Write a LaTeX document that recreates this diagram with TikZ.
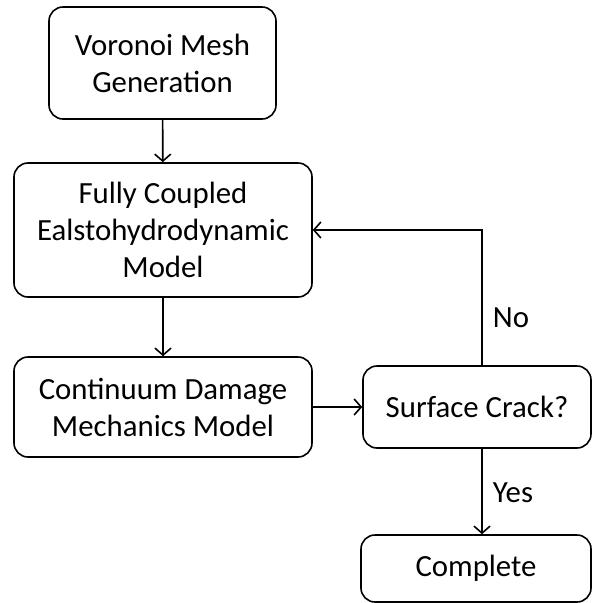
\documentclass[tikz,border=0pt]{standalone}
\usepackage{fontspec}
\setmainfont{Carlito}
\usetikzlibrary{arrows.meta}
\begin{document}
\begin{tikzpicture}[x=1pt,y=-1pt,
  box/.style={draw, line width=1.6pt, rounded corners=14pt, align=center,
    font=\fontsize{30.8}{37}\selectfont, inner sep=0pt},
  arr/.style={-{Straight Barb[length=7pt,width=16pt,line width=1.6pt]}, line width=1.6pt},
  lbl/.style={font=\fontsize{30.8}{37}\selectfont, inner sep=0pt}]
\useasboundingbox (0,0) rectangle (593,603);
\node[box, minimum width=227pt, minimum height=112pt] (b1) at (162.5,63) {Voronoi Mesh\\Generation};
\node[box, minimum width=298pt, minimum height=134pt] (b2) at (163,230) {Fully Coupled\\Ealstohydrodynamic\\Model};
\node[box, minimum width=298pt, minimum height=100pt] (b3) at (163,407) {Continuum Damage\\Mechanics Model};
\node[box, minimum width=228pt, minimum height=82pt] (sc) at (477,407) {Surface Crack?};
\node[box, minimum width=230pt, minimum height=67pt] (done) at (476,568.5) {Complete};
\coordinate (j) at (482,230);
\draw[arr] (b1) -- (b2);
\draw[arr] (b2) -- (b3);
\draw[arr] (b3) -- (sc);
\draw[arr] (j |- sc.north) -- (j) -- (b2.east);
\draw[arr] (j |- sc.south) -- (j |- done.north);
\node[lbl] (no) at (511,318) {No};
\node[lbl] (yes) at (513,493) {Yes};
\end{tikzpicture}
\end{document}
